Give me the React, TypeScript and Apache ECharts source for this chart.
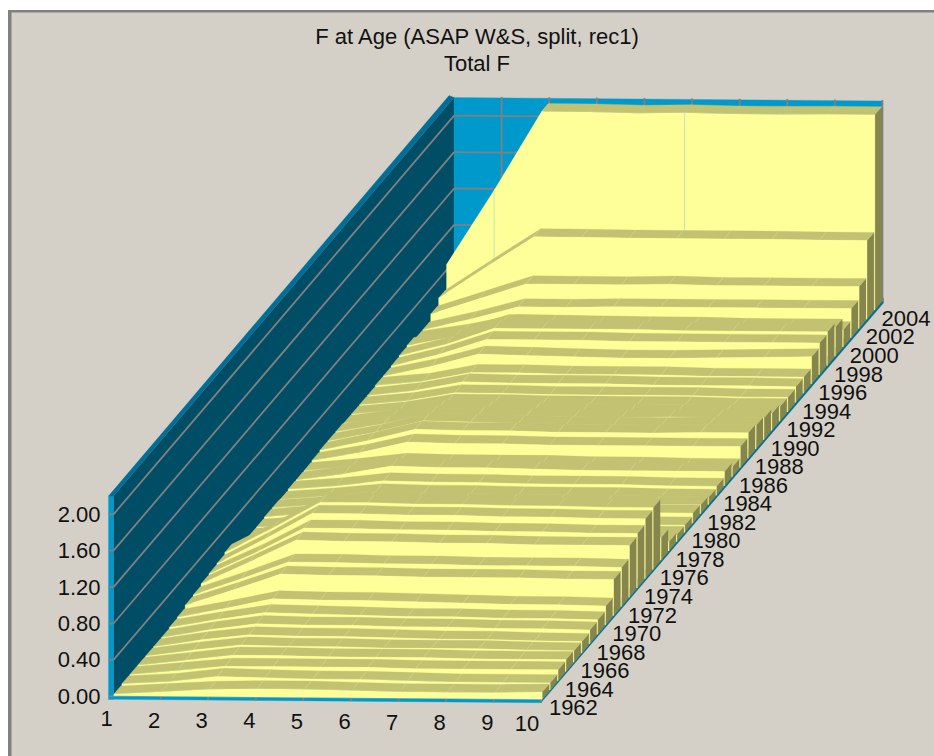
import React, { useEffect, useRef } from "react";
import * as echarts from "echarts";

const TITLE = "F at Age (ASAP W&S, split, rec1)";
const SUBTITLE = "Total F";
const AGES = [1, 2, 3, 4, 5, 6, 7, 8, 9, 10];
const F_TICKS = [0, 0.4, 0.8, 1.2, 1.6, 2.0];
const FIRST_YEAR = 1962;

const F_1960S = [
  [0.02, 0.05, 0.08, 0.09, 0.09, 0.08, 0.07, 0.07, 0.07, 0.08],
  [0.03, 0.06, 0.12, 0.11, 0.10, 0.10, 0.09, 0.08, 0.08, 0.08],
  [0.03, 0.08, 0.13, 0.13, 0.13, 0.13, 0.12, 0.12, 0.12, 0.12],
  [0.03, 0.09, 0.15, 0.15, 0.14, 0.14, 0.14, 0.13, 0.13, 0.13],
  [0.03, 0.10, 0.16, 0.15, 0.15, 0.14, 0.14, 0.14, 0.13, 0.125],
  [0.03, 0.11, 0.17, 0.16, 0.16, 0.15, 0.14, 0.14, 0.13, 0.125],
  [0.03, 0.12, 0.19, 0.18, 0.18, 0.17, 0.17, 0.16, 0.16, 0.15],
  [0.04, 0.13, 0.21, 0.20, 0.19, 0.18, 0.18, 0.17, 0.17, 0.16],
];
const F_1970S = [
  [0.05, 0.15, 0.26, 0.25, 0.25, 0.24, 0.23, 0.22, 0.22, 0.21],
  [0.08, 0.25, 0.43, 0.42, 0.42, 0.41, 0.41, 0.41, 0.40, 0.40],
  [0.09, 0.27, 0.46, 0.46, 0.45, 0.45, 0.44, 0.44, 0.44, 0.43],
  [0.11, 0.35, 0.60, 0.59, 0.59, 0.58, 0.58, 0.57, 0.57, 0.57],
  [0.12, 0.36, 0.63, 0.63, 0.62, 0.62, 0.61, 0.61, 0.60, 0.60],
  [0.13, 0.40, 0.69, 0.69, 0.68, 0.68, 0.67, 0.67, 0.66, 0.66],
  [0.15, 0.42, 0.71, 0.71, 0.70, 0.70, 0.69, 0.69, 0.68, 0.68],
  [0.03, 0.14, 0.27, 0.27, 0.26, 0.26, 0.26, 0.25, 0.25, 0.25],
  [0.02, 0.07, 0.13, 0.13, 0.12, 0.12, 0.12, 0.11, 0.11, 0.105],
  [0.02, 0.06, 0.11, 0.10, 0.10, 0.09, 0.09, 0.08, 0.08, 0.08],
];
const F_1980S = [
  [0.02, 0.06, 0.11, 0.10, 0.10, 0.09, 0.09, 0.09, 0.08, 0.08],
  [0.03, 0.08, 0.14, 0.13, 0.13, 0.12, 0.12, 0.12, 0.11, 0.11],
  [0.03, 0.07, 0.13, 0.12, 0.12, 0.11, 0.11, 0.11, 0.10, 0.10],
  [0.02, 0.06, 0.11, 0.10, 0.10, 0.09, 0.09, 0.09, 0.08, 0.08],
  [0.03, 0.07, 0.13, 0.12, 0.12, 0.11, 0.11, 0.11, 0.10, 0.10],
  [0.03, 0.10, 0.19, 0.18, 0.18, 0.17, 0.16, 0.16, 0.16, 0.16],
  [0.03, 0.08, 0.14, 0.13, 0.13, 0.13, 0.12, 0.12, 0.11, 0.11],
  [0.04, 0.13, 0.25, 0.24, 0.24, 0.23, 0.23, 0.23, 0.23, 0.23],
  [0.05, 0.16, 0.29, 0.28, 0.28, 0.27, 0.27, 0.27, 0.28, 0.28],
  [0.05, 0.15, 0.28, 0.27, 0.26, 0.25, 0.25, 0.25, 0.26, 0.26],
];
const F_1990S = [
  [0.05, 0.14, 0.26, 0.25, 0.24, 0.23, 0.23, 0.24, 0.24, 0.24],
  [0.04, 0.11, 0.22, 0.21, 0.20, 0.19, 0.19, 0.19, 0.19, 0.19],
  [0.04, 0.09, 0.18, 0.18, 0.17, 0.17, 0.17, 0.17, 0.16, 0.16],
  [0.04, 0.09, 0.18, 0.18, 0.17, 0.17, 0.17, 0.17, 0.16, 0.16],
  [0.04, 0.10, 0.20, 0.19, 0.19, 0.19, 0.18, 0.18, 0.18, 0.175],
  [0.05, 0.10, 0.20, 0.20, 0.19, 0.19, 0.19, 0.18, 0.18, 0.18],
  [0.05, 0.16, 0.30, 0.29, 0.28, 0.27, 0.27, 0.28, 0.29, 0.30],
  [0.06, 0.19, 0.36, 0.36, 0.36, 0.35, 0.35, 0.35, 0.35, 0.35],
  [0.07, 0.20, 0.38, 0.38, 0.38, 0.38, 0.37, 0.37, 0.37, 0.37],
  [0.08, 0.18, 0.34, 0.34, 0.33, 0.33, 0.33, 0.32, 0.32, 0.32],
];
const F_2000S = [
  [0.05, 0.13, 0.24, 0.23, 0.23, 0.22, 0.21, 0.21, 0.20, 0.19],
  [0.05, 0.17, 0.31, 0.31, 0.32, 0.32, 0.32, 0.32, 0.32, 0.32],
  [0.12, 0.29, 0.46, 0.46, 0.46, 0.47, 0.46, 0.46, 0.46, 0.46],
  [0.195, 0.54, 0.877, 0.875, 0.87, 0.87, 0.87, 0.87, 0.865, 0.865],
  [0.46, 1.28, 2.15, 2.15, 2.14, 2.15, 2.14, 2.14, 2.145, 2.145],
];

const F_BY_YEAR = [...F_1960S, ...F_1970S, ...F_1980S, ...F_1990S, ...F_2000S];
const YEAR_BINS = F_BY_YEAR.length;
const YEARS = F_BY_YEAR.map((_, i) => FIRST_YEAR + i);
const LAST_YEAR_SEAM_AGES = [2, 6];

const BG = "#d4d0c8";
const WALL_LEFT = "#004d66";
const WALL_BACK = "#0099cc";
const EDGE = "#006e96";
const GRID = "#808080";
const FACE = "#ffff99";
const TOP = "#c2c272";
const SIDE = "#85854d";
const SEAM = "#d8d890";
const FACE_SEAM = "#a8d8c0";
const FONT = "Liberation Sans";

// oblique projection of (age, depth in year bins, F) onto the plot plane
const project = (age: number, depth: number, f: number): number[] => [
  113.5 + 47.6 * (age - 1) + 7.92 * depth,
  696.3 + 0.38 * (age - 1) - 9.27 * depth - 91 * f,
];

const poly = (api: any, pts: number[][], fill: string, extra: any = {}) => ({
  type: "polygon",
  silent: true,
  shape: { points: pts.map((p) => api.coord(p)) },
  style: { fill, stroke: fill, lineWidth: 0.3, ...extra },
});
const seg = (api: any, a: number[], b: number[], stroke: string, lineWidth: number) => {
  const p = api.coord(a);
  const q = api.coord(b);
  return {
    type: "line",
    silent: true,
    shape: { x1: p[0], y1: p[1], x2: q[0], y2: q[1] },
    style: { stroke, lineWidth },
  };
};
const label = (api: any, p: number[], text: string, align: string) => {
  const c = api.coord(p);
  return {
    type: "text",
    silent: true,
    x: c[0],
    y: c[1],
    style: {
      text,
      fill: "#111",
      fontFamily: FONT,
      fontSize: 22,
      align,
      verticalAlign: "middle",
    },
  };
};

const renderBox = (_: any, api: any) => {
  const children: any[] = [];
  const maxF = 2.2;
  const D = YEAR_BINS;
  children.push(
    poly(api, [project(1, 0, 0), project(1, D, 0), project(1, D, maxF), project(1, 0, maxF)], WALL_LEFT),
    poly(api, [project(1, D, 0), project(10, D, 0), project(10, D, maxF), project(1, D, maxF)], WALL_BACK),
    poly(api, [project(1, 0, 0), project(10, 0, 0), project(10, D, 0), project(1, D, 0)], WALL_BACK),
  );
  // outer rim of the box
  const o = (p: number[], dx: number, dy: number) => [p[0] + dx, p[1] + dy];
  children.push(
    poly(api, [o(project(1, 0, 0), -5, 3), o(project(1, 0, 0), 0, 3), project(1, 0, maxF), o(project(1, 0, maxF), -5, 0)], WALL_BACK),
    poly(api, [o(project(1, 0, maxF), -5, 0), project(1, 0, maxF), project(1, D, maxF), o(project(1, D, maxF), -5, -2)], EDGE),
    poly(api, [o(project(1, 0, 0), -5, 3), o(project(10, 0, 0), -1, 3), project(10, 0, 0), project(1, 0, 0)], WALL_BACK),
    poly(api, [o(project(10, 0, 0), -1, 3), o(project(10, D, 0), 1, 2), o(project(10, D, 0), 1, -3), project(10, 0, 0)], EDGE),
  );
  F_TICKS.forEach((f) => {
    children.push(seg(api, project(1, 0, f), project(1, D, f), GRID, 1.8));
    children.push(seg(api, project(1, D, f), project(10, D, f), GRID, 1.8));
    children.push(seg(api, o(project(1, 0, f), -5, 0), project(1, 0, f), GRID, 1.8));
    children.push(label(api, o(project(1, 0, f), -13, 0), f.toFixed(2), "right"));
  });
  AGES.forEach((a) => {
    if (a > 1) {
      children.push(seg(api, project(a, D, 0), o(project(a, D, maxF), 0, -1), GRID, 1.8));
      children.push(seg(api, project(a, 0, 0), o(project(a, 0, 0), -1, 3), GRID, 1.8));
    }
    const nudge = a === 10 ? -15 : -7;
    children.push(label(api, o(project(a, 0, 0), nudge, a === 1 ? 22 : 23.5), String(a), "center"));
  });
  YEARS.forEach((y, i) => {
    if (i % 2 === 0) {
      children.push(label(api, o(project(10, i, 0), 7, 8), String(y), "left"));
    }
  });
  return { type: "group", children };
};

const renderRibbon = (_: any, api: any) => {
  const i = api.value(0);
  const f = AGES.map((_a, k) => api.value(k + 1));
  const d0 = i + 0.05;
  const d1 = i + 0.92;
  const children: any[] = [];
  const top0 = AGES.map((a, k) => project(a, d0, f[k]));
  const top1 = AGES.map((a, k) => project(a, d1, f[k]));
  // end cap at the last age
  children.push(
    poly(api, [project(10, d0, 0), project(10, d1, 0), top1[9], top0[9]], SIDE),
  );
  // top surface, one panel per age step
  for (let k = 0; k < 9; k++) {
    children.push(poly(api, [top0[k], top0[k + 1], top1[k + 1], top1[k]], TOP));
    if (k > 0) children.push(seg(api, top0[k], top1[k], SEAM, 0.5));
  }
  // front face
  children.push(
    poly(api, [project(1, d0, 0), ...top0, project(10, d0, 0)], FACE),
  );
  if (i === YEAR_BINS - 1) {
    LAST_YEAR_SEAM_AGES.forEach((a) => {
      children.push(seg(api, top0[a - 1], project(a, d0, 0), FACE_SEAM, 0.7));
    });
  }
  return { type: "group", children };
};

const ribbonData = F_BY_YEAR.map((row, i) => [i, ...row]).reverse();

const titleStyle = {
  fontFamily: FONT,
  fontWeight: "normal",
  fontSize: 22,
  color: "#111",
  textShadowColor: "#ffffff",
  textShadowOffsetX: 1,
  textShadowOffsetY: 1,
  textShadowBlur: 0,
};

export default function App() {
  const ref = useRef<HTMLDivElement>(null);
  useEffect(() => {
    const chart = echarts.init(ref.current!, undefined, { renderer: "svg" });
    chart.setOption({
      animation: false,
      backgroundColor: "#ffffff",
      title: [
        { text: TITLE, left: 472, top: 20, textAlign: "center", textStyle: titleStyle },
        { text: SUBTITLE, left: 472, top: 47, textAlign: "center", textStyle: titleStyle },
      ],
      graphic: [
        { type: "rect", z: -10, silent: true, shape: { x: 8, y: 10, width: 926, height: 746 }, style: { fill: GRID } },
        { type: "rect", z: -9, silent: true, shape: { x: 11.5, y: 12.5, width: 923, height: 744 }, style: { fill: BG } },
      ],
      grid: { left: 0, top: 0, width: 934, height: 756 },
      xAxis: { type: "value", min: 0, max: 934, show: false },
      yAxis: { type: "value", min: 0, max: 756, inverse: true, show: false },
      series: [
        {
          type: "custom",
          coordinateSystem: "cartesian2d",
          renderItem: renderBox,
          data: [[0]],
          clip: false,
          silent: true,
          z: 1,
        },
        {
          type: "custom",
          coordinateSystem: "cartesian2d",
          renderItem: renderRibbon,
          data: ribbonData,
          dimensions: ["year", ...AGES.map((a) => "age" + a)],
          encode: { x: 1, y: 2 },
          clip: false,
          silent: true,
          z: 2,
        },
      ],
    });
    return () => chart.dispose();
  }, []);
  return (
    <div style={{ position: "fixed", left: 0, top: 0, width: 934, height: 756, overflow: "hidden" }}>
      <div ref={ref} style={{ width: 934, height: 756 }} />
    </div>
  );
}
